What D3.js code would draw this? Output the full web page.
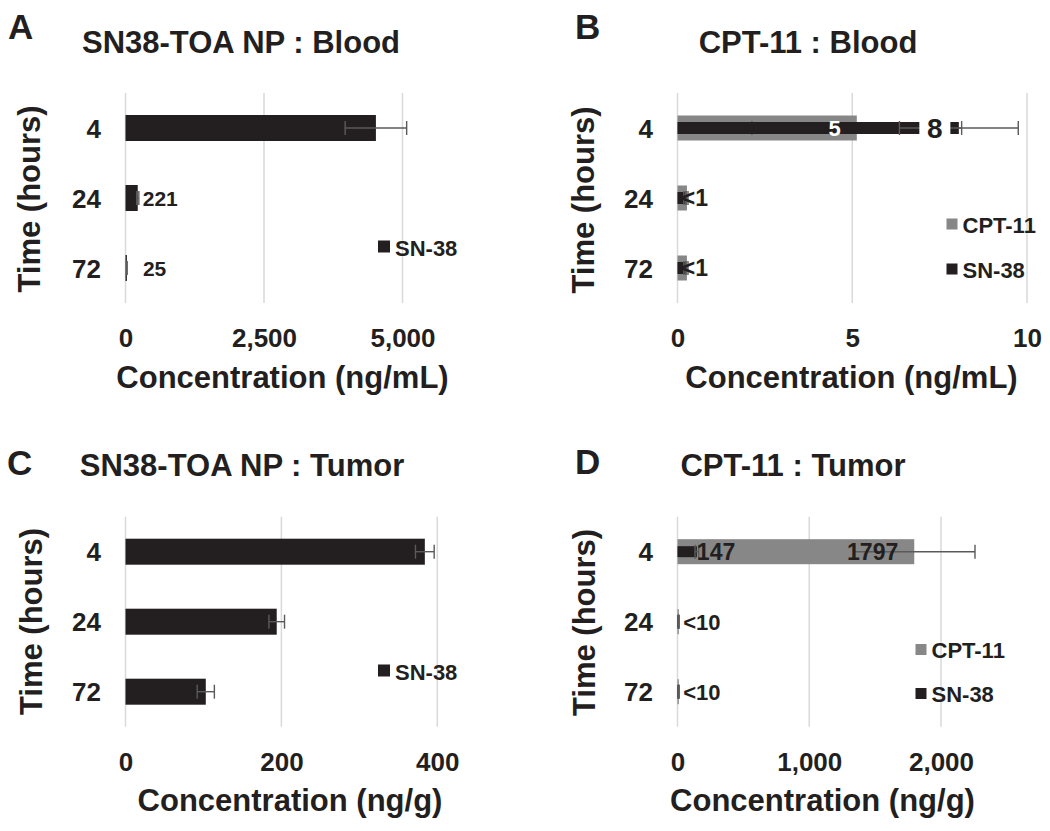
<!DOCTYPE html>
<html><head><meta charset="utf-8">
<script src="https://cdn.jsdelivr.net/npm/d3@7"></script>
<style>
body{margin:0;background:#fff}
svg text{font-family:"Liberation Sans",Arial,sans-serif;font-weight:bold;fill:#231f20}
</style>
</head><body>
<svg id="c" width="1050" height="831"></svg>
<script>
// ---------- DATA ----------
const times = ["4", "24", "72"];
const seriesNames = ["CPT-11", "SN-38"];

// A: SN38-TOA NP : Blood (ng/mL)
const npBloodSN38 = [4520, 221, 25];
const npBloodSN38Err = [555, 20, 4];
const npBloodSN38Labels = ["", "221", "25"];
const npBloodTicks = [0, 2500, 5000];

// B: CPT-11 : Blood (ng/mL)
const cptBloodCPT11 = [5.13, 0.27, 0.27];
const cptBloodCPT11Err = [3.0, 0.03, 0.03];
const cptBloodCPT11Labels = ["5", "", ""];
const cptBloodSN38 = [8.05, 0.21, 0.21];
const cptBloodSN38Err = [1.7, 0.03, 0.03];
const cptBloodSN38Labels = ["8", "<1", "<1"];
const cptBloodTicks = [0, 5, 10];

// C: SN38-TOA NP : Tumor (ng/g)
const npTumorSN38 = [384, 194, 103];
const npTumorSN38Err = [12, 10, 11];
const npTumorTicks = [0, 200, 400];

// D: CPT-11 : Tumor (ng/g)
const cptTumorCPT11 = [1797, 10, 10];
const cptTumorCPT11Err = [461, 3, 3];
const cptTumorCPT11Labels = ["1797", "", ""];
const cptTumorSN38 = [147, 5, 5];
const cptTumorSN38Err = [14, 2, 2];
const cptTumorSN38Labels = ["147", "<10", "<10"];
const cptTumorTicks = [0, 1000, 2000];

// ---------- STYLE ----------
const BLACK = "#231f20", GRAY = "#878787", GRID = "#d9d9d9", ERR = "#5a5a5a";
const svg = d3.select("#c");

const panels = [
  {
    letter: "A", letterX: 8, letterY: 39,
    title: "SN38-TOA NP : Blood", titleX: 241, titleY: 53,
    xr: [125.5, 402.5], yr: [93, 303], domain: [0, 5000], ticks: npBloodTicks, fmt: d3.format(","),
    xTitle: "Concentration (ng/mL)", xTitleX: 282.5, xTitleY: 388,
    yTitleX: 40, yTitleY: 199,
    series: [
      { name: seriesNames[1], values: npBloodSN38, err: npBloodSN38Err, labels: npBloodSN38Labels,
        color: BLACK, h: 26, mode: ["out", "out", "out"], dx: [5, 5, 16], fs: [21, 21, 21], lc: BLACK }
    ],
    legendX: 378, legendY: 240.5, legendGap: 45, sq: 12
  },
  {
    letter: "B", letterX: 575, letterY: 39,
    title: "CPT-11 : Blood", titleX: 808, titleY: 53,
    xr: [677.5, 1027], yr: [93, 303], domain: [0, 10], ticks: cptBloodTicks, fmt: d3.format("d"),
    xTitle: "Concentration (ng/mL)", xTitleX: 851.5, xTitleY: 388,
    yTitleX: 594, yTitleY: 200,
    series: [
      { name: seriesNames[0], values: cptBloodCPT11, err: cptBloodCPT11Err, labels: cptBloodCPT11Labels,
        color: GRAY, h: 25, mode: ["in", "in", "in"], dx: [-16, -16, -16], fs: [22, 22, 22], lc: "#ffffff" },
      { name: seriesNames[1], values: cptBloodSN38, err: cptBloodSN38Err, labels: cptBloodSN38Labels,
        color: BLACK, h: 12, mode: ["box", "out", "out"], dx: [-24, -3, -3], fs: [28, 23, 23], lc: BLACK }
    ],
    legendX: 946.5, legendY: 218.5, legendGap: 45, sq: 11
  },
  {
    letter: "C", letterX: 7, letterY: 475,
    title: "SN38-TOA NP : Tumor", titleX: 242, titleY: 476,
    xr: [125.5, 437.3], yr: [516.7, 726.7], domain: [0, 400], ticks: npTumorTicks, fmt: d3.format("d"),
    xTitle: "Concentration (ng/g)", xTitleX: 290, xTitleY: 811,
    yTitleX: 42, yTitleY: 621.5,
    series: [
      { name: seriesNames[1], values: npTumorSN38, err: npTumorSN38Err, labels: null,
        color: BLACK, h: 26 }
    ],
    legendX: 378, legendY: 664.5, legendGap: 45, sq: 12
  },
  {
    letter: "D", letterX: 575, letterY: 474,
    title: "CPT-11 : Tumor", titleX: 793, titleY: 476,
    xr: [677.5, 941], yr: [516.7, 726.7], domain: [0, 2000], ticks: cptTumorTicks, fmt: d3.format(","),
    xTitle: "Concentration (ng/g)", xTitleX: 822.5, xTitleY: 811,
    yTitleX: 595, yTitleY: 622.5,
    series: [
      { name: seriesNames[0], values: cptTumorCPT11, err: cptTumorCPT11Err, labels: cptTumorCPT11Labels,
        color: GRAY, h: 25, mode: ["in", "in", "in"], dx: [-16, -16, -16], fs: [23, 23, 23], lc: BLACK },
      { name: seriesNames[1], values: cptTumorSN38, err: cptTumorSN38Err, labels: cptTumorSN38Labels,
        color: BLACK, h: 11, mode: ["out", "out", "out"], dx: [0, 5, 5], fs: [23, 22, 22], lc: BLACK }
    ],
    legendX: 915.5, legendY: 644, legendGap: 44, sq: 11
  }
];

function drawPanel(p) {
  const g = svg.append("g");
  const x = d3.scaleLinear().domain(p.domain).range(p.xr);
  const y = d3.scaleBand().domain(times).range(p.yr).paddingInner(0).paddingOuter(0);
  const cy = t => y(t) + y.bandwidth() / 2;

  // gridlines
  g.selectAll("line.grid").data(p.ticks).join("line")
    .attr("x1", d => x(d)).attr("x2", d => x(d))
    .attr("y1", p.yr[0]).attr("y2", p.yr[1])
    .attr("stroke", GRID).attr("stroke-width", 1.5);

  // x axis
  const ax = g.append("g").attr("transform", `translate(0,${p.yr[1]})`)
    .call(d3.axisBottom(x).tickValues(p.ticks).tickSize(0).tickPadding(0).tickFormat(p.fmt));
  ax.select(".domain").remove();
  ax.selectAll("text").attr("y", 44).attr("dy", null)
    .style("font-size", "26px").style("fill", BLACK);

  // y axis
  const ay = g.append("g").attr("transform", `translate(${p.xr[0]},0)`)
    .call(d3.axisLeft(y).tickSize(0).tickPadding(24.5));
  ay.select(".domain").remove();
  ay.selectAll("text").attr("dy", "0.37em").style("font-size", "26px").style("fill", BLACK);

  // bars + error bars (series order)
  p.series.forEach(s => {
    const data = times.map((t, i) => ({ t, v: s.values[i], e: s.err[i] }));
    g.append("g").selectAll("rect").data(data).join("rect")
      .attr("x", x(0)).attr("y", d => cy(d.t) - s.h / 2)
      .attr("width", d => x(d.v) - x(0)).attr("height", s.h)
      .attr("fill", s.color);
    const eg = g.append("g").attr("stroke", ERR).attr("stroke-width", 1.4).attr("fill", "none");
    eg.selectAll("line.eb").data(data).join("line")
      .attr("x1", d => x(d.v - d.e)).attr("x2", d => x(d.v + d.e))
      .attr("y1", d => cy(d.t)).attr("y2", d => cy(d.t));
    eg.selectAll("line.lo").data(data).join("line")
      .attr("x1", d => x(d.v - d.e)).attr("x2", d => x(d.v - d.e))
      .attr("y1", d => cy(d.t) - 7).attr("y2", d => cy(d.t) + 7);
    eg.selectAll("line.hi").data(data).join("line")
      .attr("x1", d => x(d.v + d.e)).attr("x2", d => x(d.v + d.e))
      .attr("y1", d => cy(d.t) - 7).attr("y2", d => cy(d.t) + 7);
  });

  // labels
  p.series.forEach(s => {
    if (!s.labels) return;
    times.forEach((t, i) => {
      const txt = s.labels[i];
      if (!txt) return;
      const m = s.mode[i], fs = s.fs[i];
      const lx = x(s.values[i]) + s.dx[i];
      if (m === "box") {
        g.append("rect").attr("x", lx - 15.5).attr("y", cy(t) - 13)
          .attr("width", 31).attr("height", 26).attr("fill", "#fff");
      }
      g.append("text").attr("x", lx).attr("y", cy(t) + fs * 0.36)
        .attr("text-anchor", m === "in" ? "end" : (m === "box" ? "middle" : "start"))
        .style("font-size", fs + "px").style("fill", s.lc).text(txt);
    });
  });

  // legend
  p.series.forEach((s, i) => {
    const ly = p.legendY + i * p.legendGap;
    g.append("rect").attr("x", p.legendX).attr("y", ly).attr("width", p.sq).attr("height", p.sq).attr("fill", s.color);
    g.append("text").attr("x", p.legendX + p.sq + 5).attr("y", ly + p.sq + 3)
      .style("font-size", "22px").text(s.name);
  });

  // titles
  g.append("text").attr("x", p.letterX).attr("y", p.letterY).style("font-size", "35px").text(p.letter);
  g.append("text").attr("x", p.titleX).attr("y", p.titleY).attr("text-anchor", "middle")
    .style("font-size", "31px").text(p.title);
  g.append("text").attr("x", p.xTitleX).attr("y", p.xTitleY).attr("text-anchor", "middle")
    .style("font-size", "31px").text(p.xTitle);
  g.append("text").attr("transform", `translate(${p.yTitleX},${p.yTitleY}) rotate(-90)`)
    .attr("text-anchor", "middle").style("font-size", "31px").text("Time (hours)");
}

panels.forEach(drawPanel);
</script>
</body></html>
